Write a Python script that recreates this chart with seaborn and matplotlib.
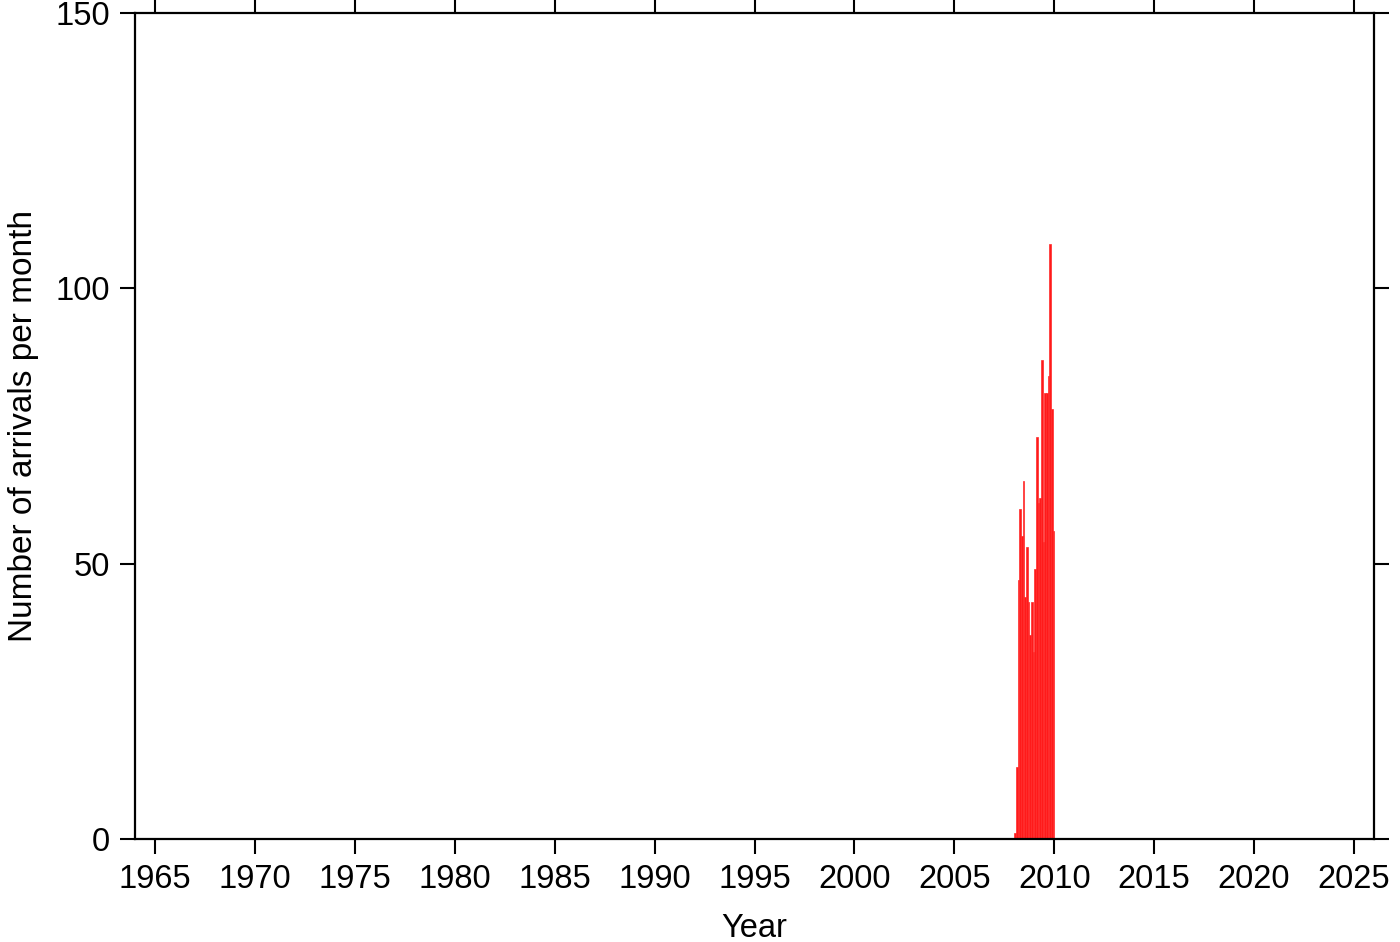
import matplotlib
matplotlib.use("Agg")
import matplotlib.pyplot as plt
import seaborn as sns
import numpy as np

# Monthly arrival counts, Jan 2008 .. Dec 2009
years = [2008] * 12 + [2009] * 12
months = list(range(1, 13)) * 2
counts = [1, 13, 47, 60, 55, 65, 44, 53, 43, 37, 43, 34,
          49, 73, 61, 62, 87, 54, 81, 81, 84, 108, 78, 56]

x_ticks = list(range(1965, 2030, 5))
y_ticks = [0, 50, 100, 150]

sns.set_theme(style="ticks")
plt.rcParams['font.family'] = ['Liberation Sans', 'DejaVu Sans']

fig = plt.figure(figsize=(14, 9.42), dpi=100)
ax = fig.add_axes([135 / 1400, 1 - 839 / 942, (1374 - 135) / 1400, (839 - 13) / 942])

dec_time = [y + (m - 0.5) / 12 for y, m in zip(years, months)]
edges = [y + (m - 1) / 12 for y, m in zip(years, months)] + [2010.0]
sns.histplot(x=dec_time, weights=counts, bins=edges, color="#ff1a1a", alpha=1.0,
             edgecolor="#ff2a2a", linewidth=0.5, ax=ax)

ax.set_xlim(1964, 2026)
ax.set_ylim(0, 150)
ax.set_xticks(x_ticks)
ax.set_yticks(y_ticks)
ax.set_xlabel("Year", fontsize=23.5, labelpad=13, color="black")
ax.set_ylabel("Number of arrivals per month", fontsize=24, labelpad=12, color="black")
ax.tick_params(axis="both", which="major", direction="out", length=11, width=1.5,
               labelsize=23.5, colors="black", top=True, right=True, pad=7)
for s in ax.spines.values():
    s.set_visible(True)
    s.set_linewidth(1.6)
    s.set_color("black")
ax.grid(False)

fig.savefig("out.png", dpi=100, facecolor="white")
